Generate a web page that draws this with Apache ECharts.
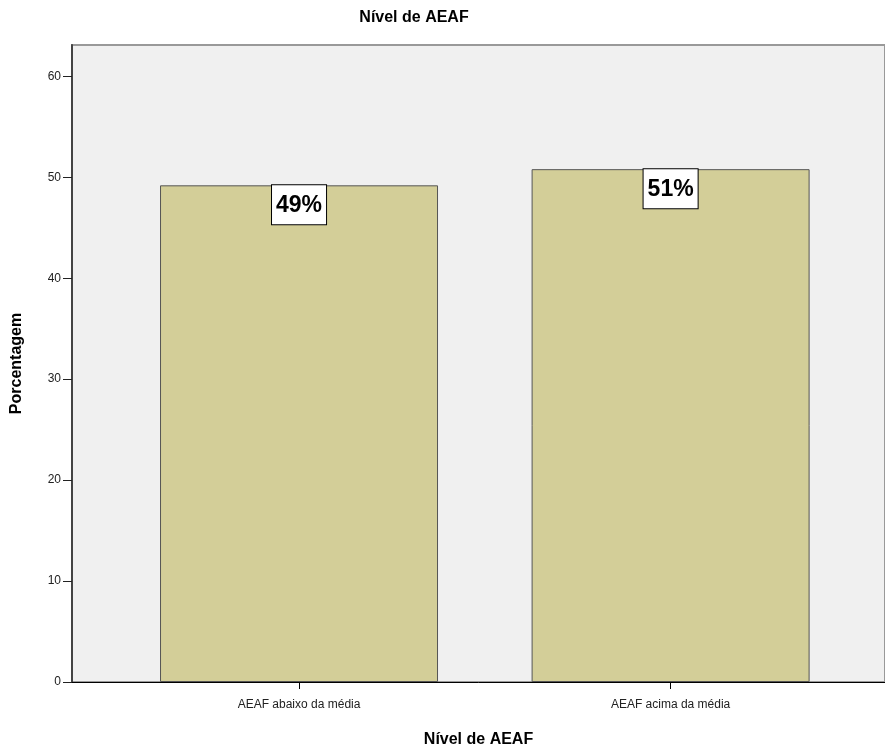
<!DOCTYPE html>
<html>
<head>
<meta charset="utf-8">
<script src="https://cdn.jsdelivr.net/npm/echarts@6/dist/echarts.min.js"></script>
<style>
  html, body { margin: 0; padding: 0; background: #ffffff; }
  #chart { width: 885px; height: 753px; }
</style>
</head>
<body>
<div id="chart"></div>
<script>
// Percent of respondents in each AEAF level
const categories = ['AEAF abaixo da média', 'AEAF acima da média'];
const percentages = [49.2, 50.8];
const yTicks = [0, 10, 20, 30, 40, 50, 60];

const chart = echarts.init(document.getElementById('chart'));

// bars sit at positions 0 and 1 on a numeric x scale with padding on both sides
const positions = categories.map((_, i) => i);
const barData = percentages.map((v, i) => [positions[i], v]);

const font = '"Liberation Sans", Arial, sans-serif';

chart.setOption({
  animation: false,
  title: {
    text: 'Nível de AEAF',
    left: 409,
    top: 5,
    textAlign: 'center',
    textStyle: { fontFamily: font, fontSize: 16, fontWeight: 'bold', color: '#000' }
  },
  grid: {
    left: 72, right: 0, top: 45, bottom: 66,
    show: true,
    backgroundColor: '#f0f0f0',
    borderColor: '#999999',
    borderWidth: 2
  },
  xAxis: {
    type: 'value',
    min: -0.611,
    max: 1.577,
    name: 'Nível de AEAF',
    nameLocation: 'middle',
    nameGap: 50,
    nameTextStyle: { fontFamily: font, fontSize: 16, fontWeight: 'bold', color: '#000' },
    splitLine: { show: false },
    axisLine: { show: true, onZero: false, lineStyle: { color: '#000', width: 1 } },
    axisTick: { show: true, length: 7, customValues: positions, lineStyle: { color: '#000' } },
    axisLabel: {
      customValues: positions,
      formatter: v => categories[Math.round(v)] || '',
      margin: 17,
      fontFamily: font, fontSize: 12, color: '#222'
    }
  },
  yAxis: {
    type: 'value',
    min: 0,
    max: 63.1,
    name: 'Porcentagem',
    nameLocation: 'middle',
    nameRotate: 90,
    nameGap: 47,
    nameTextStyle: { fontFamily: font, fontSize: 16, fontWeight: 'bold', color: '#000' },
    splitLine: { show: false },
    axisLine: { show: true, onZero: false, lineStyle: { color: '#444', width: 2 } },
    axisTick: { show: true, length: 9, customValues: yTicks, lineStyle: { color: '#222' } },
    axisLabel: {
      customValues: yTicks,
      margin: 11,
      fontFamily: font, fontSize: 12, color: '#222'
    }
  },
  series: [{
    type: 'bar',
    data: barData,
    barWidth: 278,
    itemStyle: { color: '#d3ce98', borderColor: '#555', borderWidth: 1 },
    label: {
      show: true,
      position: 'insideTop',
      distance: 0,
      formatter: p => Math.round(p.value[1]) + '%',
      fontFamily: font, fontSize: 23, fontWeight: 'bold', color: '#000',
      lineHeight: 28,
      backgroundColor: '#ffffff',
      borderColor: '#000', borderWidth: 1,
      padding: [6, 4, 5, 4]
    }
  }]
});
</script>
</body>
</html>
